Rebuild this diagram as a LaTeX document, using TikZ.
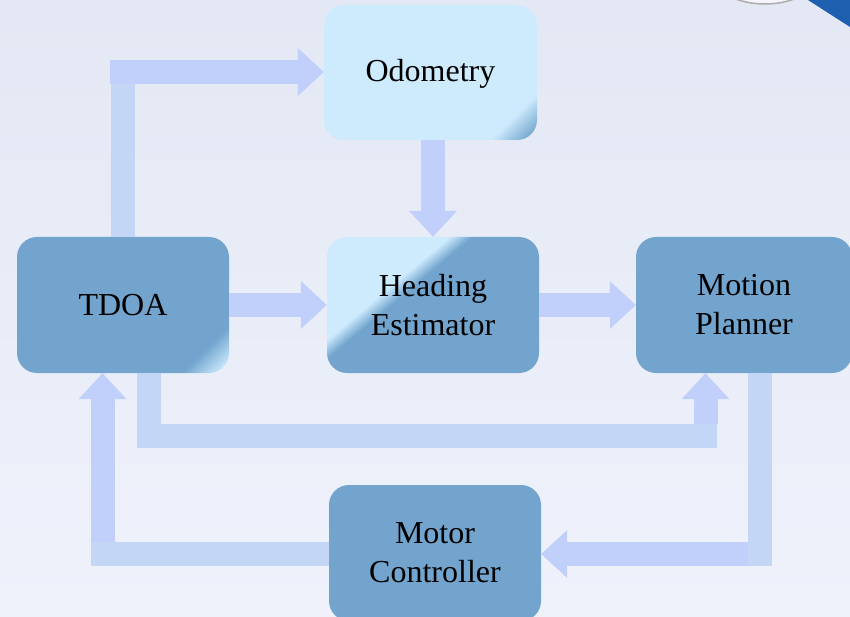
\documentclass[tikz,border=0pt]{standalone}
\usepackage{fontspec}
\setmainfont{Liberation Serif}
\usetikzlibrary{arrows.meta,calc}
\definecolor{boxdark}{HTML}{72A4CD}
\definecolor{boxlight}{HTML}{CDEBFD}
\definecolor{segc}{HTML}{C3D6F5}
\definecolor{arrc}{HTML}{C0D0FB}
\definecolor{bgtop}{HTML}{E3E8F4}
\definecolor{bgbot}{HTML}{EFF2FB}
\definecolor{decoblue}{HTML}{1F5FAF}
\pgfdeclareverticalshading{headshade}{100bp}{color(0bp)=(boxdark); color(54.5bp)=(boxdark); color(57bp)=(boxlight); color(100bp)=(boxlight)}
\pgfdeclareverticalshading{tdoashade}{100bp}{color(0bp)=(boxdark); color(65bp)=(boxdark); color(69.5bp)=(boxlight); color(100bp)=(boxlight)}
\pgfdeclareverticalshading{odoshade}{100bp}{color(0bp)=(boxlight); color(65bp)=(boxlight); color(69.5bp)=(boxdark); color(100bp)=(boxdark)}
\tikzset{
  box/.style={rounded corners=20pt, minimum width=212pt, minimum height=136pt, inner sep=0pt, align=center, font=\fontsize{32}{39}\selectfont},
  darkbox/.style={box, fill=boxdark},
  headbox/.style={box, path picture={\shade[shading=headshade, shading angle=40] ($(path picture bounding box.center)+(-150,-150)$) rectangle ($(path picture bounding box.center)+(150,150)$);}},
  tdoabox/.style={box, path picture={\shade[shading=tdoashade, shading angle=-135] ($(path picture bounding box.center)+(-150,-150)$) rectangle ($(path picture bounding box.center)+(150,150)$);}},
  odobox/.style={box, path picture={\shade[shading=odoshade, shading angle=-135] ($(path picture bounding box.center)+(-150,-150)$) rectangle ($(path picture bounding box.center)+(150,150)$);}},
  seg/.style={draw=segc, line width=24pt},
  blockarrow/.style={draw=arrc, line width=24pt, -{Triangle[length=26pt, width=48pt, line width=0pt]}}
}
\begin{document}
\begin{tikzpicture}[x=1pt, y=-1pt]
\useasboundingbox (0,0) rectangle (850,617);
\clip (0,0) rectangle (850,617);
\shade[top color=bgtop, bottom color=bgbot] (0,0) rectangle (850,617);
% top-right decoration
\draw[draw=gray!65, line width=1.5pt, fill=white!60!bgtop] (765,-30) ellipse [x radius=56, y radius=34];
\fill[decoblue] (808,0) -- (850,0) -- (850,27) -- cycle;
% boxes
\node[odobox, minimum width=213pt, minimum height=135pt, text depth=4pt] (odo) at (430.5,72.5) {Odometry};
\node[tdoabox] (tdoa) at (123,305) {TDOA};
\node[headbox] (head) at (433,305) {Heading\\Estimator};
\node[darkbox, minimum width=216pt] (mp) at (744,305) {Motion\\Planner};
\node[darkbox] (motor) at (435,553) {Motor\\Controller};
% corner coordinates
\coordinate (k1) at (122.5,60);
\coordinate (k1b) at (110,72);
\coordinate (k2) at (148.5,435.5);
\coordinate (k3) at (717,435.5);
\coordinate (k4) at (705.5,424);
\coordinate (k5) at (759.5,566);
\coordinate (k6) at (748,554);
\coordinate (k7) at (91,554);
\coordinate (k8) at (102.5,542);
% TDOA -> Odometry
\draw[seg] (tdoa.north -| k1) -- (k1);
\draw[blockarrow] (k1b) -- (k1b -| odo.west);
% Odometry -> Heading
\draw[blockarrow] (odo.south -| head.north) -- (head.north);
% TDOA -> Heading, Heading -> Motion Planner
\draw[blockarrow] (tdoa.east) -- (head.west);
\draw[blockarrow] (head.east) -- (mp.west);
% TDOA -> Motion Planner (below)
\draw[seg] (tdoa.south -| k2) -- (k2) -- (k3);
\draw[blockarrow] (k4) -- (k4 |- mp.south);
% Motion Planner -> Motor Controller
\draw[seg] (mp.south -| k5) -- (k5);
\draw[blockarrow] (k6) -- (k6 -| motor.east);
% Motor Controller -> TDOA
\draw[seg] (k7 -| motor.west) -- (k7);
\draw[blockarrow] (k8) -- (k8 |- tdoa.south);
\end{tikzpicture}
\end{document}
